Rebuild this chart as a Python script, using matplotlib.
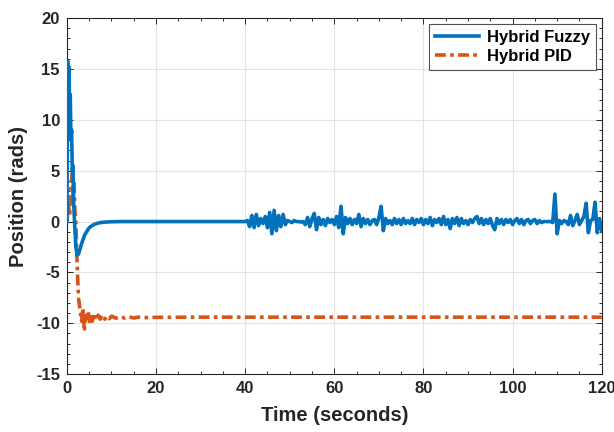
import numpy as np
import matplotlib
matplotlib.use("Agg")
import matplotlib.pyplot as plt
from matplotlib.ticker import MultipleLocator

plt.rcParams['font.family'] = ['Liberation Sans', 'DejaVu Sans']
plt.rcParams['axes.unicode_minus'] = False

# Hybrid Fuzzy: transient part
fuzzy_t_start = [0, 0.15, 0.3, 0.45, 0.6, 0.75, 0.9, 1.05, 1.2, 1.35, 1.5, 1.7,
                 2.0, 2.3, 2.6, 3.0, 3.5, 4.0, 5.0, 6.0, 7.0, 8.0, 10.0, 12.0,
                 15.0, 20.0, 30.0, 39.5]
fuzzy_y_start = [0, 15.8, 14.0, 15.2, 11.0, 12.5, 8.0, 9.0, 5.0, 5.5, 2.0, 0.0,
                 -2.5, -3.3, -3.2, -2.6, -1.9, -1.3, -0.6, -0.3, -0.15, -0.07, -0.02, 0.0,
                 0.0, 0.0, 0.0, 0.0]

# Hybrid Fuzzy: noisy part, every 0.5 s from 40 to 120 s
fuzzy_t_noise = np.arange(40, 120.5, 0.5)
fuzzy_y_noise = [
    0, 0.1, -0.5, 0.6, -0.6, 0.7, -0.4, 0.3, -0.2, 0.5,            # 40 - 44.5
    -0.6, 0.9, -1.2, 1.1, -0.9, 0.6, -0.5, 0.7, -0.3, 0.1,          # 45 - 49.5
    0, -0.1, 0.1, 0, 0, -0.05, 0, -0.3, 0.4, -0.5,                   # 50 - 54.5
    0.3, 0.8, -0.8, 0.4, -0.3, 0.2, -0.4, 0.3, -0.1, 0.2,            # 55 - 59.5
    -0.3, 0.5, -0.6, 1.5, -1.2, 0.4, -0.2, 0.3, -0.3, 0.2,           # 60 - 64.5
    -0.2, 0.7, -0.5, 0.3, -0.2, 0.2, -0.3, 0.1, 0.2, -0.3,           # 65 - 69.5
    0.4, 1.5, -0.9, 0.3, -0.2, 0.1, -0.3, 0.3, -0.2, 0.2,            # 70 - 74.5
    -0.3, 0.3, -0.2, 0.1, -0.2, 0.3, -0.3, 0.2, -0.1, 0.3,           # 75 - 79.5
    -0.3, 0.2, -0.2, 0.4, -0.4, 0.2, -0.1, 0.3, -0.3, 0.5,           # 80 - 84.5
    -0.3, 0.2, -0.7, 0.3, -0.2, 0.4, -0.4, 0.3, -0.2, 0.1,           # 85 - 89.5
    -0.3, 0.2, -0.1, 0.3, 0.5, -0.2, 0.3, -0.3, 0.2, -0.2,           # 90 - 94.5
    0.3, -0.4, -0.8, 0.3, -0.2, 0.2, -0.3, 0.2, -0.1, 0.2,           # 95 - 99.5
    -0.3, 0.1, 0.3, -0.2, 0.2, -0.3, 0.1, 0.2, -0.2, 0.1,            # 100 - 104.5
    0.2, -0.2, 0.1, -0.1, 0, 0, 0, 0, -0.1, 2.7,                     # 105 - 109.5
    -1.2, 0.1, -0.2, 0.1, 0, -0.3, 0.6, -0.4, 0.1, 0.7,              # 110 - 114.5
    -0.3, 0.1, 0.5, 1.8, -1.1, 0.1, 0.2, 1.9, -1.1, 0.3,             # 115 - 119.5
    -0.9,                                                            # 120
]

fuzzy_t = np.concatenate([fuzzy_t_start, fuzzy_t_noise])
fuzzy_y = np.concatenate([fuzzy_y_start, fuzzy_y_noise])

# Hybrid PID
pid_t = [0, 0.3, 0.6, 0.9, 1.2, 1.4, 1.6, 1.8, 2.0, 2.2, 2.4, 2.6, 2.8, 3.0,
         3.3, 3.6, 3.9, 4.2, 4.5, 4.8, 5.1, 5.4, 5.7, 6.0, 6.5, 7.0, 7.5, 8.0,
         8.5, 9.0, 9.5, 10.0, 11.0, 12.0, 13.0, 14.0, 15.0, 16.0, 18.0, 20.0,
         30.0, 120.0]
pid_y = [0, 2.0, 0.5, 3.5, 4.8, 2.5, 3.8, 1.0, 0.0, -3.0, -5.5, -7.5, -8.2, -8.8,
         -9.8, -8.5, -10.8, -9.2, -9.8, -8.9, -10.0, -9.1, -9.8, -9.0, -9.7, -9.2, -9.6, -9.2,
         -9.6, -9.3, -9.55, -9.3, -9.5, -9.35, -9.5, -9.38, -9.48, -9.4, -9.45, -9.42,
         -9.4, -9.4]

fig = plt.figure(figsize=(6.14, 4.32), dpi=100)
ax = fig.add_axes([0.109, 0.134, 0.871, 0.824])

ax.plot(fuzzy_t, fuzzy_y, color='#0072BD', lw=2.6, label='Hybrid Fuzzy', zorder=3)
ax.plot(pid_t, pid_y, color='#D95319', lw=2.6, dashes=(3, 1.2, 1, 1.2),
        label='Hybrid PID', zorder=2)

ax.set_xlim(0, 120)
ax.set_ylim(-15, 20)
ax.xaxis.set_major_locator(MultipleLocator(20))
ax.xaxis.set_minor_locator(MultipleLocator(5))
ax.yaxis.set_major_locator(MultipleLocator(5))
ax.yaxis.set_minor_locator(MultipleLocator(1))

ax.grid(True, which='major', color='#e3e3e3', lw=0.8)
ax.set_axisbelow(True)
ax.tick_params(which='both', direction='in', top=True, right=True,
               color='#262626', width=0.7)
ax.tick_params(which='major', length=4, labelsize=12, labelcolor='#262626', pad=5)
ax.tick_params(which='minor', length=2)
for lab in ax.get_xticklabels() + ax.get_yticklabels():
    lab.set_fontweight('bold')
for s in ax.spines.values():
    s.set_color('#262626')
    s.set_linewidth(0.8)

ax.set_xlabel('Time (seconds)', fontsize=14.5, fontweight='bold', color='#262626', labelpad=7)
ax.set_ylabel('Position (rads)', fontsize=14.5, fontweight='bold', color='#262626', labelpad=6)

leg = ax.legend(loc='upper right', prop={'weight': 'bold', 'size': 12},
                frameon=True, fancybox=False, edgecolor='#262626',
                handlelength=2.6, handletextpad=0.5, borderaxespad=0.35,
                labelspacing=0.25, borderpad=0.35)
leg.get_frame().set_linewidth(0.8)

fig.savefig('out.png', dpi=100)
